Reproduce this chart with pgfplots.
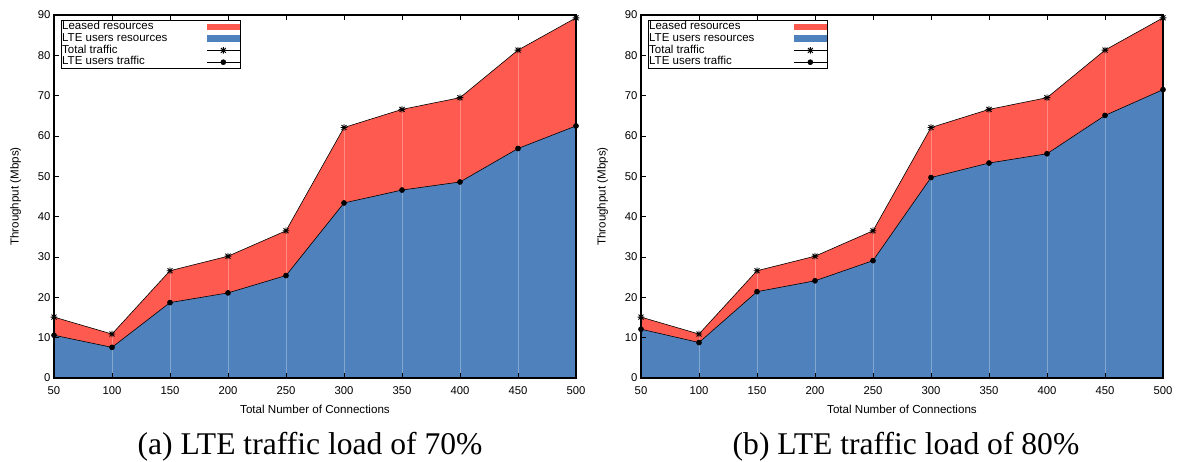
\documentclass[border=0pt]{standalone}
\usepackage{pgfplots}
\pgfplotsset{compat=1.18}
\usepackage{pgfplotstable}
\usepackage{fontspec}
\setmainfont{Liberation Sans}
\newfontfamily\capfont{Liberation Serif}
\definecolor{lred}{HTML}{FF5A4F}
\definecolor{lblue}{HTML}{4F81BD}
\pgfdeclareplotmark{star8}{%
  \pgfpathmoveto{\pgfqpoint{-\pgfplotmarksize}{0pt}}\pgfpathlineto{\pgfqpoint{\pgfplotmarksize}{0pt}}%
  \pgfpathmoveto{\pgfqpoint{0pt}{-\pgfplotmarksize}}\pgfpathlineto{\pgfqpoint{0pt}{\pgfplotmarksize}}%
  \pgfpathmoveto{\pgfqpoint{-0.75\pgfplotmarksize}{-0.75\pgfplotmarksize}}\pgfpathlineto{\pgfqpoint{0.75\pgfplotmarksize}{0.75\pgfplotmarksize}}%
  \pgfpathmoveto{\pgfqpoint{-0.75\pgfplotmarksize}{0.75\pgfplotmarksize}}\pgfpathlineto{\pgfqpoint{0.75\pgfplotmarksize}{-0.75\pgfplotmarksize}}%
  \pgfusepathqstroke}
\pgfplotstableread{
x total lteA lteB
50 15.1 10.6 12.1
100 10.9 7.6 8.8
150 26.6 18.7 21.4
200 30.2 21.1 24.1
250 36.5 25.4 29.1
300 62.1 43.4 49.7
350 66.6 46.6 53.3
400 69.5 48.6 55.6
450 81.3 56.9 65.1
500 89.3 62.5 71.5
}\data
\pgfplotsset{
  myaxis/.style={
    scale only axis, width=522pt, height=363pt,
    xmin=50, xmax=500, ymin=0, ymax=90,
    xtick={50,100,...,500}, ytick={0,10,...,90},
    ytick pos=left, tick align=inside, major tick length=5pt,
    axis on top,
    xmajorgrids, major grid style={white, opacity=0.3, line width=0.8pt},
    axis line style={black, line width=1.1pt},
    tick style={black, line width=0.6pt},
    /pgf/number format/assume math mode=true,
    tick label style={font=\fontsize{11.3}{13}\selectfont},
    xticklabel style={yshift=-5pt},
    label style={font=\fontsize{11.6}{13}\selectfont},
    xlabel={Total Number of Connections}, ylabel={Throughput (Mbps)},
    xlabel style={yshift=-4pt}, ylabel style={yshift=10pt},
    legend plot pos=right, legend cell align=left,
    legend style={at={(0,1)}, anchor=north west, xshift=7pt, yshift=-5pt,
      draw=black, line width=0.8pt, inner sep=0.5pt, row sep=0pt,
      font=\fontsize{11.5}{11.5}\selectfont,
      nodes={inner sep=0.3pt, text height=8.3pt, text depth=2.9pt}},
  },
  areaimg/.style={legend image code/.code={\fill[##1] (0pt,-3.3pt) rectangle (33pt,3.3pt);}},
  lineimg/.style={legend image code/.code={\draw[black, line width=0.6pt] (0pt,0pt) -- (33pt,0pt); \draw[##1] plot coordinates {(16.5pt,0pt)};}},
  totstyle/.style={black, line width=0.6pt, mark=star8, mark size=3.3pt, mark options={line width=0.9pt}, lineimg},
  ltestyle/.style={black, line width=0.6pt, mark=*, mark size=2.5pt, lineimg},
}
\begin{document}
\begin{tikzpicture}
\useasboundingbox (0,0) rectangle (1181pt,461pt);
\begin{axis}[myaxis, at={(54pt,83pt)}, anchor=south west]
\addplot[draw=none, fill=lred, areaimg] table[x=x,y=total]{\data} \closedcycle;
\addlegendentry{\makebox[144pt][l]{Leased resources}}
\addplot[draw=none, fill=lblue, areaimg] table[x=x,y=lteA]{\data} \closedcycle;
\addlegendentry{\makebox[144pt][l]{LTE users resources}}
\addplot[totstyle] table[x=x,y=total]{\data};
\addlegendentry{\makebox[144pt][l]{Total traffic}}
\addplot[ltestyle] table[x=x,y=lteA]{\data};
\addlegendentry{\makebox[144pt][l]{LTE users traffic}}
\end{axis}
\begin{axis}[myaxis, at={(641pt,83pt)}, anchor=south west]
\addplot[draw=none, fill=lred, areaimg] table[x=x,y=total]{\data} \closedcycle;
\addlegendentry{\makebox[144pt][l]{Leased resources}}
\addplot[draw=none, fill=lblue, areaimg] table[x=x,y=lteB]{\data} \closedcycle;
\addlegendentry{\makebox[144pt][l]{LTE users resources}}
\addplot[totstyle] table[x=x,y=total]{\data};
\addlegendentry{\makebox[144pt][l]{Total traffic}}
\addplot[ltestyle] table[x=x,y=lteB]{\data};
\addlegendentry{\makebox[144pt][l]{LTE users traffic}}
\end{axis}
\node[anchor=base, font=\capfont\fontsize{31.6}{33}\selectfont] at (310pt,7pt) {(a) LTE traffic load of 70\%};
\node[anchor=base, font=\capfont\fontsize{31.6}{33}\selectfont] at (906pt,7pt) {(b) LTE traffic load of 80\%};
\end{tikzpicture}
\end{document}
